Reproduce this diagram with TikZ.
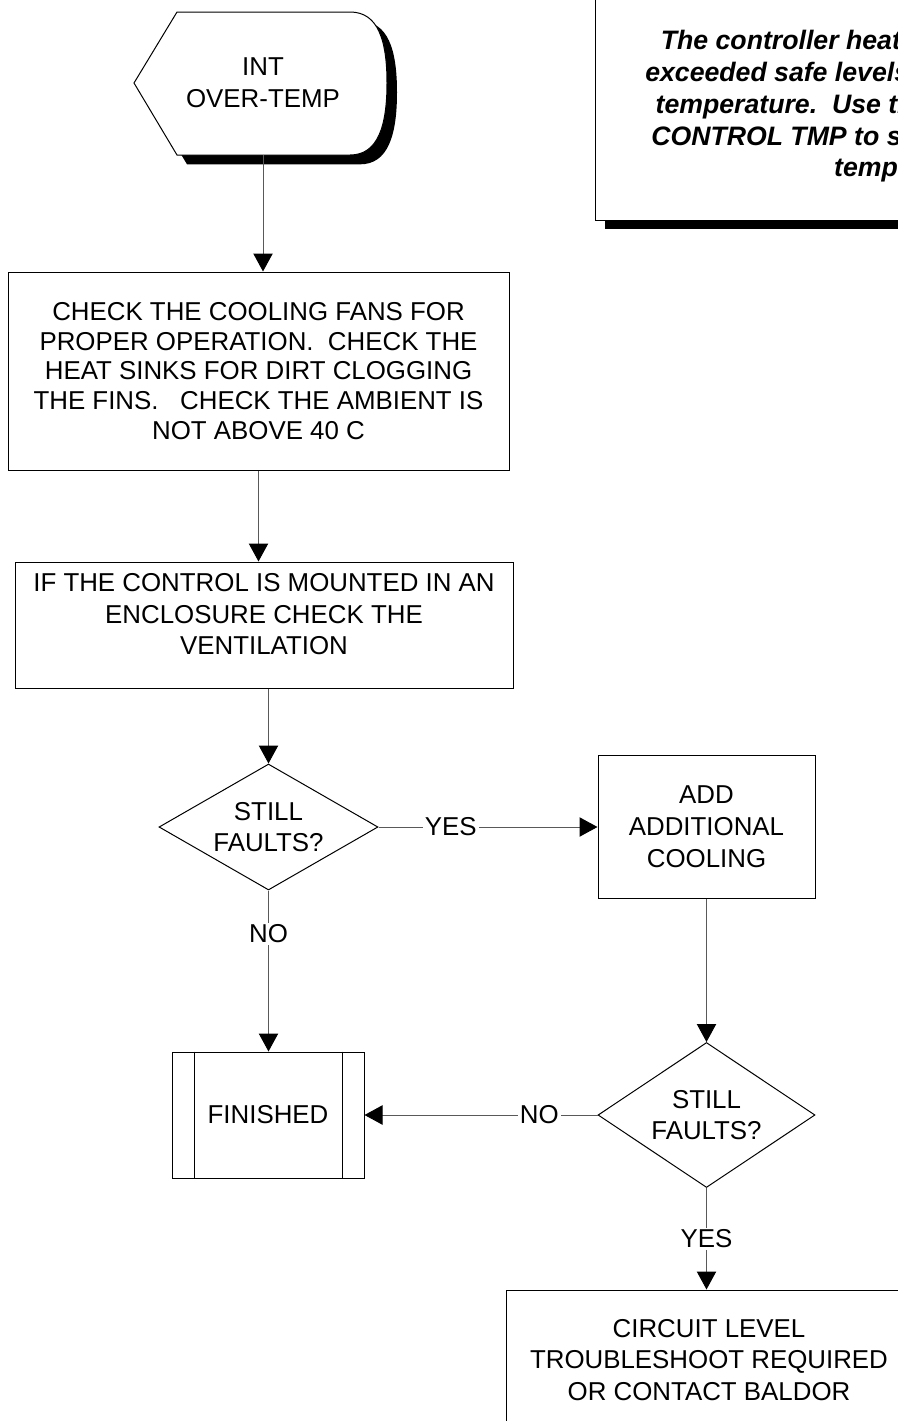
\documentclass[tikz,border=0pt]{standalone}
\usepackage{fontspec}
\setmainfont{Liberation Sans}
\usetikzlibrary{arrows.meta,shapes.geometric,shadows,calc,positioning}
\newcommand{\pxu}{0.75pt}
\tikzset{
    boxsize/.style 2 args={minimum width=#1*\pxu,minimum height=#2*\pxu},
    boxsty/.style={draw,fill=white,rectangle,line width=\pxu,align=center,inner sep=0pt},
    decsty/.style={draw,fill=white,diamond,shape aspect=1.7,line width=\pxu,align=center,inner sep=0pt},
    shdsty/.style={drop shadow={shadow xshift=7.5pt,shadow yshift=-7pt,opacity=1,fill=black}},
    notesty/.style={boxsty,shdsty,font=\fontsize{20}{23.85}\selectfont\bfseries\itshape},
    lnsty/.style={draw=linegray,line width=\pxu,->},
    lblsty/.style={fill=white,inner sep=1.5pt},
}
\colorlet{linegray}{black!65}

\begin{document}
\begin{tikzpicture}[x=\pxu,y=-\pxu,>={Triangle[length=13.5pt,width=14.5pt,color=black]},
                    font=\fontsize{19.4}{23.8}\selectfont]
  \clip (0,0) rectangle (898,1421);

  % start symbol
  \path[draw,fill=white,line width=\pxu,shdsty] (134,83) -- (177,12) -- (350,12)
    .. controls (378,12) and (387,40) .. (387,83)
    .. controls (387,126) and (378,155) .. (350,155) -- (177,155) -- cycle;
  \node[align=center,boxsize={253}{143}] (start) at (263,83) {INT\\OVER-TEMP};

  \node[notesty,boxsize={640}{227}] (note) at (915,106.5)
    {The controller heatsink temperature has\\exceeded safe levels for internal operating\\temperature.~~Use the Diagnostic Info list\\CONTROL TMP to see the actual heatsink\\temperature.};

  \node[boxsty,boxsize={501}{198},font=\fontsize{19.4}{22.2}\selectfont] (check) at (258.5,371)
    {CHECK THE COOLING FANS FOR\\PROPER OPERATION.~~CHECK THE\\HEAT SINKS FOR DIRT CLOGGING\\THE FINS.~~~CHECK THE AMBIENT IS\\NOT ABOVE 40 C};
  \node[boxsty,boxsize={498}{126},
        label={[align=center,yshift=8pt]center:{IF THE CONTROL IS MOUNTED IN AN\\ENCLOSURE CHECK THE\\VENTILATION}}]
    (encl) at (264,625) {};
  \node[decsty,boxsize={219}{126}] (d1) at (268.5,827) {STILL\\FAULTS?};
  \node[boxsty,boxsize={217}{143}] (add) at (706.5,826.5) {ADD\\ADDITIONAL\\COOLING};
  \node[decsty,boxsize={217}{145}] (d2) at (706.5,1115) {STILL\\FAULTS?};
  \node[boxsty,boxsize={192}{126}] (fin) at (268,1115) {FINISHED};
  \draw[line width=\pxu] ($(fin.north west)+(23,0)$) -- ($(fin.south west)+(23,0)$)
                         ($(fin.north east)+(-22,0)$) -- ($(fin.south east)+(-22,0)$);
  \node[boxsty,boxsize={406}{140}] (circ) at (709,1360)
    {CIRCUIT LEVEL\\TROUBLESHOOT REQUIRED\\OR CONTACT BALDOR};

  % connectors
  \draw[lnsty] (start.south) -- (start.south |- check.north);
  \draw[lnsty] (check.south) -- (check.south |- encl.north);
  \draw[lnsty] (d1.north |- encl.south) -- (d1.north);
  \draw[lnsty] (d1.east) -- node[lblsty,pos=0.33]{YES} (d1.east -| add.west);
  \draw[lnsty] (d1.south) -- node[lblsty,pos=0.27]{NO} (d1.south |- fin.north);
  \draw[lnsty] (add.south) -- (add.south |- d2.north);
  \draw[lnsty] (d2.west) -- node[lblsty,pos=0.25]{NO} (d2.west -| fin.east);
  \draw[lnsty] (d2.south) -- node[lblsty]{YES} (d2.south |- circ.north);
\end{tikzpicture}
\end{document}
